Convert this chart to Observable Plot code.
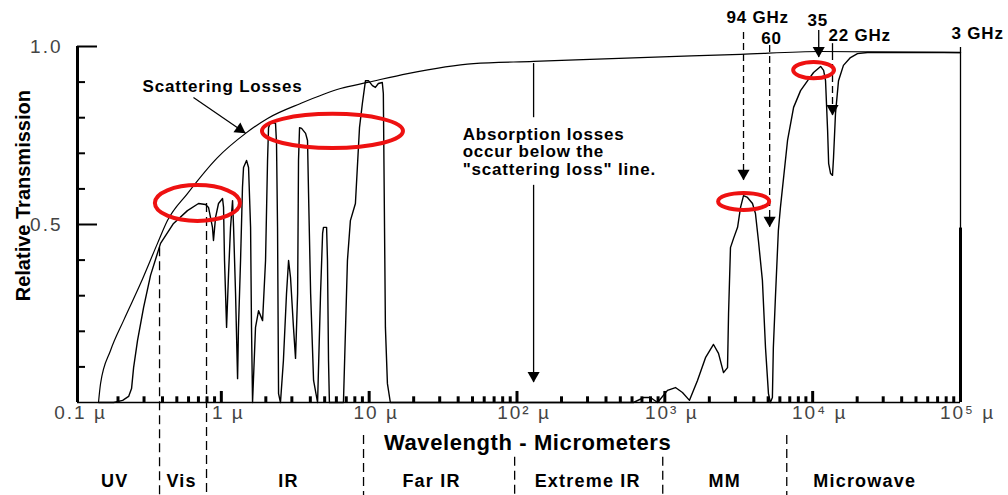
<!DOCTYPE html>
<html><head><meta charset="utf-8">
<script src="https://cdn.jsdelivr.net/npm/d3@7"></script>
<script src="https://cdn.jsdelivr.net/npm/@observablehq/plot@0.6"></script>
<style>
body{margin:0;background:#fff}
svg g[font-size="17"]{letter-spacing:0.8px}
svg g[font-size="18"]{letter-spacing:1.2px}
svg g[font-size="19"]{letter-spacing:2px}
svg g[font-size="22"]{letter-spacing:0.6px}
</style></head><body><div id="chart"></div><script>
// Transmission curve (wavelength in micrometers, relative transmission)
const transWl = [0.148,0.187,0.215,0.236,0.247,0.255,0.271,0.298,0.332,0.388,0.475,0.590,0.701,0.782,0.819,0.871,0.885,0.914,0.957,1.019,1.035,1.051,1.085,1.119,1.154,1.191,1.210,1.248,1.288,1.306,1.349,1.390,1.413,1.481,1.528,1.577,1.600,1.626,1.703,1.786,1.901,1.991,2.054,2.086,2.152,2.326,2.362,2.400,2.438,2.512,2.630,2.760,2.850,2.938,3.076,3.176,3.281,3.327,3.381,3.491,3.715,3.828,3.890,4.018,4.207,4.477,4.690,4.842,4.909,5.152,5.224,5.309,5.383,6.699,7.129,7.464,8.072,8.602,8.995,9.441,9.888,10.52,11.02,11.54,12.27,12.47,12.88,13.29,13.91,613.8,717.8,800,893,1042,1180,1316,1468,1663,1884,2134,2307,2494,2655,2698,2780,2917,3105,3252,3406,3624,3917,4102,4296,4571,4797,5023,5176,5340,5420,5598,5861,6053,6761,7430,8283,9247,10140,11320,11860,12220,12620,12830,13220,13620,13840,14270,14960,16150,18020,20100,23500,100000];
const transT = [0,0,0.006,0.017,0.039,0.098,0.174,0.267,0.357,0.447,0.503,0.539,0.559,0.556,0.548,0.492,0.455,0.520,0.559,0.573,0.548,0.399,0.211,0.362,0.492,0.567,0.492,0.306,0.067,0.211,0.399,0.604,0.660,0.680,0.660,0.492,0.211,0,0.211,0.258,0.230,0.399,0.680,0.772,0.787,0.784,0.728,0.492,0.025,0,0.118,0.306,0.399,0.351,0.211,0.124,0.306,0.680,0.772,0.770,0.756,0.736,0.587,0.306,0.062,0,0.306,0.475,0.492,0.492,0.399,0.118,0,0,0.399,0.511,0.559,0.772,0.840,0.904,0.904,0.890,0.885,0.896,0.899,0.868,0.211,0.053,0,0,0.014,0.014,0,0.034,0.042,0.028,0.006,0.062,0.126,0.163,0.138,0.084,0.098,0.250,0.435,0.461,0.492,0.548,0.581,0.576,0.559,0.531,0.455,0.343,0.154,0.025,0,0.014,0.154,0.295,0.483,0.548,0.736,0.829,0.876,0.904,0.927,0.944,0.933,0.904,0.764,0.671,0.643,0.638,0.688,0.812,0.904,0.947,0.969,0.980,0.983,0.983];
// Scattering-loss limit curve
const scatWl = [0.1476,0.1524,0.178,0.218,0.284,0.370,0.432,0.590,0.942,1.459,2.055,3.436,6.40,9.75,18.2,50.8,129.5,685,3253,11320,100000];
const scatT = [0,0.053,0.146,0.230,0.334,0.447,0.511,0.587,0.688,0.756,0.798,0.840,0.882,0.899,0.924,0.952,0.958,0.969,0.978,0.986,0.983];

// Axis ticks and labels
const decades = [0.1,1,10,100,1000,10000];
const decadeTicks = [1,10,100,1000,10000];
const decadeLabelWl = [0.1,1,10,100,1000,10000,100000];
const decadeLabels = ["0.1 µ","1 µ","10 µ","10² µ","10³ µ","10⁴ µ","10⁵ µ"];
const yMajor = [0.5,1.0];
const yMinor = [0.1,0.2,0.3,0.4,0.6,0.7,0.8,0.9];
const yLabels = [1.0,0.5];

// Spectral regions
const regionNames = ["UV","Vis","IR","Far IR","Extreme IR","MM","Microwave"];
const regionWl = [0.190,0.538,2.85,26.4,300.6,2541,22500];
const boundWl = [0.382,0.794,9.16,96.4,968,6680];
const boundTop = [0.435,0.559,-0.093,-0.154,-0.154,-0.093];

// Frequency markers
const markerWl = [3406,5117,10990,13620];
const markerTop = [1.039,1.003,1.045,0.980];
const markerTip = [0.624,0.492,0.969,0.806];
const markerDashed = [true,true,false,true];
const freqLabels = ["94 GHz","60","35","22 GHz","3 GHz"];
const freqLabelWl = [4246,5272,10810,20800,130600];
const freqLabelT = [1.081,1.022,1.073,1.031,1.037];

// Highlight ellipses (bounds in data units)
const ellX0 = [0.347,1.84,2240,7210];
const ellX1 = [1.39,17.6,5280,14500];
const ellT0 = [0.503,0.708,0.534,0.904];
const ellT1 = [0.615,0.815,0.593,0.961];

const trans = transWl.map((w,i)=>({w, t:transT[i]}));
const scat = scatWl.map((w,i)=>({w, t:scatT[i]}));
const xMinor = decades.flatMap(d=>[2,3,4,5,6,7,8,9].map(k=>d*k));
const markers = markerWl.map((w,i)=>({w, top:markerTop[i], tip:markerTip[i], dashed:markerDashed[i]}));
const bounds = boundWl.map((w,i)=>({w, top:boundTop[i]}));

const plot = Plot.plot({
  width: 1008, height: 495,
  marginLeft: 73, marginRight: 48, marginTop: 46, marginBottom: 93,
  x: {type: "log", domain: [0.1, 100000], axis: null},
  y: {domain: [0, 1], axis: null},
  style: {fontFamily: "'Liberation Sans', Arial, sans-serif", background: "white", overflow: "visible"},
  marks: [
    Plot.ruleY([0], {insetLeft: 4, strokeWidth: 1.5}),
    Plot.ruleX([0.1], {y1: 0, y2: 1, dx: 4, strokeWidth: 3}),
    Plot.tickY(yMinor, {y: d=>d, insetLeft: 4, insetRight: 875, strokeWidth: 2}),
    Plot.tickY(yMajor, {y: d=>d, insetLeft: 4, insetRight: 863, strokeWidth: 2}),
    Plot.ruleX(xMinor, {x: d=>d, y1: 0, y2: 0.016, strokeWidth: 3}),
    Plot.ruleX(decadeTicks, {x: d=>d, y1: 0, y2: 0.031, strokeWidth: 3}),
    Plot.ruleX([100000], {y1: 0, y2: 0.997, strokeWidth: 1.3}),
    Plot.ruleX([100000], {y1: 0, y2: 0.49, strokeWidth: 3}),
    Plot.text(yLabels, {y: d=>d, text: d=>d.toFixed(1), frameAnchor: "left", dx: -11, textAnchor: "end", fontSize: 19, fill: "#444"}),
    Plot.text(decadeLabelWl, {x: d=>d, text: (d,i)=>decadeLabels[i], frameAnchor: "bottom", dy: 16, dx: 7, fontSize: 19, fill: "#444"}),
    Plot.text(["Relative Transmission"], {frameAnchor: "left", y: 0.581, dx: -50, rotate: -90, textAnchor: "middle", fontSize: 20, fontWeight: "bold"}),
    Plot.text(["Wavelength - Micrometers"], {x: 118, y: -0.115, fontSize: 22, fontWeight: "bold"}),
    Plot.text(regionNames, {x: (d,i)=>regionWl[i], y: -0.222, text: d=>d, fontSize: 18, fontWeight: "bold"}),
    Plot.ruleX(bounds, {x: "w", y1: "top", y2: -0.261, strokeDasharray: "9,5", strokeWidth: 1.3}),
    Plot.line(scat, {x: "w", y: "t", curve: "monotone-x", strokeWidth: 1.2}),
    Plot.line(trans, {x: "w", y: "t", strokeWidth: 1.4}),
    Plot.ruleX(markers.filter(d=>d.dashed), {x: "w", y1: "top", y2: "tip", strokeDasharray: "7,4", strokeWidth: 1.3}),
    Plot.ruleX(markers.filter(d=>!d.dashed), {x: "w", y1: "top", y2: "tip", strokeWidth: 1.3}),
    Plot.ruleX([13620], {y1: 1.008, y2: 0.980, strokeWidth: 1.3}),
    Plot.dot(markers, {x: "w", y: "tip", symbol: "triangle", rotate: 180, r: 4.5, fill: "black", stroke: "none", dy: -7}),
    Plot.text(freqLabels, {x: (d,i)=>freqLabelWl[i], y: (d,i)=>freqLabelT[i], text: d=>d, fontSize: 17, fontWeight: "bold"}),
    Plot.text(["Scattering Losses"], {x: 0.293, y: 0.888, textAnchor: "start", fontSize: 17, fontWeight: "bold"}),
    Plot.link([0], {x1: 0.648, y1: 0.857, x2: 1.459, y2: 0.756, strokeWidth: 1.2}),
    Plot.dot([0], {x: 1.459, y: 0.756, symbol: "triangle", rotate: 124.7, r: 4.5, fill: "black", stroke: "none", dx: -5.8, dy: -4}),
    Plot.ruleX([129.5], {y1: 0.952, y2: 0.80, strokeWidth: 1.3}),
    Plot.ruleX([129.5], {y1: 0.61, y2: 0.056, strokeWidth: 1.3}),
    Plot.dot([129.5], {x: d=>d, y: 0.056, symbol: "triangle", rotate: 180, r: 4.5, fill: "black", stroke: "none", dy: -7}),
    Plot.text(['Absorption losses\noccur below the\n"scattering loss" line.'], {x: 42.9, y: 0.705, textAnchor: "start", lineAnchor: "middle", lineHeight: 1.03, fontSize: 17, fontWeight: "bold"})
  ]
});

const sx = plot.scale("x"), sy = plot.scale("y");
// highlight ellipses, placed with Plot's own scales
d3.select(plot).append("g")
  .attr("fill", "none").attr("stroke", "#ee1111").attr("stroke-width", 4)
  .selectAll("ellipse").data(d3.range(ellX0.length)).join("ellipse")
  .attr("cx", i => (sx.apply(ellX0[i]) + sx.apply(ellX1[i])) / 2)
  .attr("cy", i => (sy.apply(ellT0[i]) + sy.apply(ellT1[i])) / 2)
  .attr("rx", i => Math.abs(sx.apply(ellX1[i]) - sx.apply(ellX0[i])) / 2 - 2)
  .attr("ry", i => Math.abs(sy.apply(ellT1[i]) - sy.apply(ellT0[i])) / 2 - 2);

document.getElementById("chart").appendChild(plot);
</script></body></html>
